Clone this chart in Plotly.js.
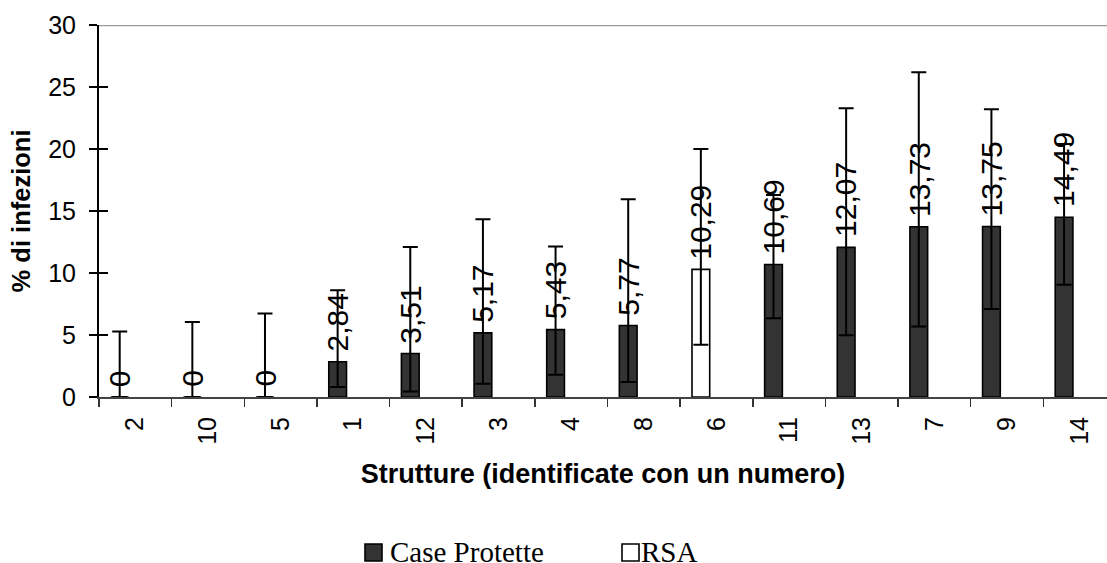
<!DOCTYPE html>
<html>
<head>
<meta charset="utf-8">
<script src="https://cdn.plot.ly/plotly-3.0.1.min.js"></script>
<style>html,body{margin:0;padding:0;background:#fff;}#chart{width:1107px;height:563px;}</style>
</head>
<body>
<div id="chart"></div>
<script>
// Categories (structures, identified by a number) in displayed order
const categories = ["2","10","5","1","12","3","4","8","6","11","13","7","9","14"];
// Type of structure for each category
const groups = ["CP","CP","CP","CP","CP","CP","CP","CP","RSA","CP","CP","CP","CP","CP"];
// % of infections (bar heights)
const values = [0,0,0,2.84,3.51,5.17,5.43,5.77,10.29,10.69,12.07,13.73,13.75,14.49];
// Upper and lower bounds of the error bars
const upper = [5.29,6.04,6.74,8.6,12.09,14.34,12.14,15.95,20.0,16.3,23.28,26.19,23.2,20.4];
const lower = [0,0,0,0.8,0.45,1.07,1.8,1.2,4.21,6.36,4.97,5.69,7.09,9.05];
// Data labels as printed
const labels = ["0","0","0","2,84","3,51","5,17","5,43","5,77","10,29","10,69","12,07","13,73","13,75","14,49"];
// Series
const seriesKeys = ["CP","RSA"];
const seriesNames = ["Case Protette","RSA"];
const seriesColors = ["#333333","#ffffff"];
const yTicks = [0,5,10,15,20,25,30];

function subset(g){
  const x=[],y=[],ep=[],em=[];
  categories.forEach((c,i)=>{ if(groups[i]===g){ x.push(c); y.push(values[i]); ep.push(upper[i]-values[i]); em.push(values[i]-lower[i]); }});
  return {x,y,ep,em};
}
const BW = 0.244, OFF = -0.337;
const traces = seriesKeys.map((k,s)=>{
  const d = subset(k);
  return {type:'bar', name:seriesNames[s], x:d.x, y:d.y, width:BW, offset:OFF,
    marker:{color:seriesColors[s], line:{color:'#000', width:1.6}},
    error_y:{type:'data', symmetric:false, array:d.ep, arrayminus:d.em, color:'#000', thickness:2, width:7.5},
    hoverinfo:'none', showlegend:false};
});

// data labels placed by category index (numeric position on the category axis)
const annotations = categories.map((c,i)=>({x:i, y:values[i], xref:'x', yref:'y', text:labels[i], showarrow:false,
  textangle:-90, xanchor:'center', yanchor:'bottom', xshift:-15.6, yshift:8,
  font:{family:'Liberation Sans, Arial, sans-serif', size:30, color:'#000'}}));

// legend drawn at the bottom (swatch + name per series)
const plotL = 99, plotW = 1008, plotB = 397, plotH = 372;
const px2x = p => (p - plotL) / plotW;
const px2y = p => (plotB - p) / plotH;
const legendSwatchX = [365, 622];
const legendTextX = [388, 639];
const shapes = [{type:'line', xref:'paper', yref:'y', x0:0, x1:1, y0:30, y1:30, line:{color:'#9a9a9a', width:2.5}}];
seriesNames.forEach((n,s)=>{
  shapes.push({type:'rect', xref:'paper', yref:'paper', x0:px2x(legendSwatchX[s]), x1:px2x(legendSwatchX[s]+17),
    y0:px2y(561), y1:px2y(544), fillcolor:seriesColors[s], line:{color:'#000', width:1.6}});
  annotations.push({xref:'paper', yref:'paper', x:px2x(legendTextX[s]), y:px2y(552), xanchor:'left', yanchor:'middle',
    text:n, showarrow:false, font:{family:'Liberation Serif, Times New Roman, serif', size:29, color:'#000'}});
});

const layout = {
  width:1107, height:563,
  margin:{l:99, r:0, t:25, b:166, autoexpand:false},
  paper_bgcolor:'#fff', plot_bgcolor:'#fff',
  barmode:'overlay', showlegend:false,
  font:{family:'Liberation Sans, Arial, sans-serif', color:'#000'},
  xaxis:{type:'category', categoryorder:'array', categoryarray:categories, automargin:false,
    range:[-0.5, 13.376], tickson:'boundaries', ticks:'outside', ticklen:8, tickwidth:1.5, tickcolor:'#333',
    tickangle:-90, tickfont:{size:25}, showline:true, linecolor:'#444', linewidth:2, showgrid:false, zeroline:false,
    ticklabelstandoff:8,
    title:{text:'<b>Strutture (identificate con un numero)</b>', font:{size:27}, standoff:20}},
  yaxis:{range:[0,30], tickvals:yTicks, ticktext:yTicks.map(String), automargin:false, ticks:'outside', ticklen:8, tickwidth:1.5, tickcolor:'#000',
    tickfont:{size:25}, showline:true, linecolor:'#000', linewidth:2, showgrid:false, zeroline:false, ticklabelstandoff:8,
    title:{text:'<b>% di infezioni</b>', font:{size:25.5}, standoff:10}},
  yaxis2:{overlaying:'y', side:'left', range:[0,30], tickvals:yTicks, ticks:'inside', ticklen:9, tickwidth:1.5, tickcolor:'#000',
    showticklabels:false, showline:false, showgrid:false, zeroline:false, automargin:false},
  shapes:shapes,
  annotations:annotations
};
// invisible trace to activate the inner tick marks of yaxis2
traces.push({type:'scatter', x:[categories[0]], y:[0], yaxis:'y2', mode:'markers', marker:{opacity:0}, showlegend:false, hoverinfo:'none'});
Plotly.newPlot('chart', traces, layout, {staticPlot:true});
</script>
</body>
</html>
